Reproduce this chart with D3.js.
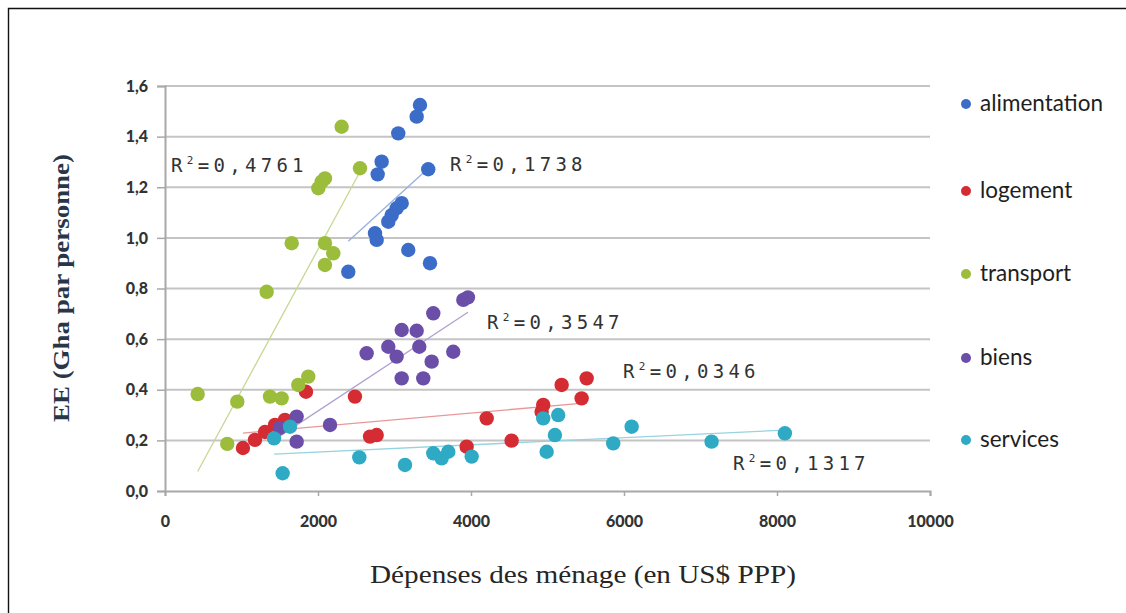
<!DOCTYPE html>
<html>
<head>
<meta charset="utf-8">
<script src="https://cdn.jsdelivr.net/npm/d3@7"></script>
<style>
  html, body { margin: 0; padding: 0; background: #fff; }
  svg { display: block; }
</style>
</head>
<body>
<svg id="chart" width="1126" height="613"></svg>
<script>
// ---- data ---------------------------------------------------------------
const categories = ["alimentation", "logement", "transport", "biens", "services"];

// household spending (US$ PPP) and ecological footprint (gha per person)
const alimentationX = [3333, 3290, 3049, 2832, 2780, 3441, 3094, 3028, 2963, 2919, 2745, 2767, 3180, 3464, 2396];
const alimentationY = [1.525, 1.479, 1.413, 1.301, 1.251, 1.271, 1.137, 1.117, 1.090, 1.064, 1.018, 0.992, 0.952, 0.900, 0.866];

const logementX = [1019, 1176, 1307, 1438, 1568, 1843, 2483, 2680, 2767, 4205, 4531, 3943, 4944, 4923, 5185, 5512, 5446];
const logementY = [0.170, 0.202, 0.233, 0.261, 0.281, 0.392, 0.373, 0.215, 0.221, 0.287, 0.199, 0.175, 0.340, 0.313, 0.419, 0.445, 0.366];

const transportX = [427, 945, 814, 1329, 1372, 1525, 1742, 1873, 2309, 2549, 2048, 2004, 2091, 1656, 2091, 2200, 2091];
const transportY = [0.383, 0.353, 0.186, 0.787, 0.373, 0.366, 0.419, 0.452, 1.439, 1.275, 1.222, 1.196, 1.235, 0.979, 0.979, 0.939, 0.893];

const biensX = [1500, 1721, 1721, 2157, 2636, 2919, 3028, 3094, 3290, 3324, 3507, 3486, 3094, 3376, 3768, 3900, 3960];
const biensY = [0.249, 0.294, 0.195, 0.261, 0.544, 0.570, 0.531, 0.636, 0.633, 0.570, 0.702, 0.511, 0.445, 0.445, 0.550, 0.755, 0.765];

const servicesX = [1538, 1425, 1634, 2540, 3137, 3507, 3616, 3703, 4009, 4989, 5097, 4944, 5140, 5859, 6100, 7145, 8103];
const servicesY = [0.070, 0.208, 0.254, 0.133, 0.103, 0.149, 0.129, 0.155, 0.136, 0.155, 0.221, 0.287, 0.300, 0.188, 0.254, 0.195, 0.228];

// coefficient of determination of each linear trend
const r2Values = ["0,1738", "0,0346", "0,4761", "0,3547", "0,1317"];

const xTicks = [0, 2000, 4000, 6000, 8000, 10000];
const yTicks = [0, 0.2, 0.4, 0.6, 0.8, 1.0, 1.2, 1.4, 1.6];

// ---- styles / layout -----------------------------------------------------
const seriesColors = ["#3b6cc8", "#d52b32", "#9bbd3b", "#6a4ea8", "#2eaac4"];
const trendColors  = ["#98b0de", "#e8989b", "#c6d891", "#b0a0d2", "#97d3e0"];
const r2Pos = [[450, 171], [623, 378], [171, 172], [487, 329], [733, 470]];

const xs = [alimentationX, logementX, transportX, biensX, servicesX];
const ys = [alimentationY, logementY, transportY, biensY, servicesY];
const series = categories.map((name, i) => ({
  name, color: seriesColors[i], trend: trendColors[i], r2: r2Values[i], pos: r2Pos[i],
  points: xs[i].map((v, j) => ({ x: v, y: ys[i][j] }))
}));

const svg = d3.select("#chart");
const x = d3.scaleLinear().domain([0, 10000]).range([165, 930]);
const y = d3.scaleLinear().domain([0, 1.6]).range([491, 86]);

// outer frame (top and left edges)
svg.append("path")
  .attr("d", "M8.5,613 L8.5,8.5 L1126,8.5")
  .attr("fill", "none").attr("stroke", "#111").attr("stroke-width", 1.4);

// horizontal gridlines
svg.append("g").selectAll("line")
  .data(yTicks.filter(d => d > 0))
  .join("line")
  .attr("x1", x(0)).attr("x2", x(10000))
  .attr("y1", d => y(d)).attr("y2", d => y(d))
  .attr("stroke", "#c4c4c4").attr("stroke-width", 2);

// axes
const fr = d3.formatLocale({ decimal: ",", thousands: "", grouping: [3], currency: ["", ""] });
const yAxis = d3.axisLeft(y).tickValues(yTicks).tickFormat(fr.format(".1f")).tickSize(8).tickPadding(9);
const xAxis = d3.axisBottom(x).tickValues(xTicks).tickFormat(d3.format("d")).tickSize(5).tickPadding(20);

const gy = svg.append("g").attr("transform", `translate(${x(0)},0)`).call(yAxis);
const gx = svg.append("g").attr("transform", `translate(0,${y(0)})`).call(xAxis);
[gx, gy].forEach(g => {
  g.select(".domain").attr("stroke", "#a8a8a8").attr("stroke-width", 2);
  g.selectAll(".tick line").attr("stroke", "#a8a8a8").attr("stroke-width", 1.5);
  g.selectAll(".tick text")
    .attr("fill", "#333")
    .style("font-family", "Lato, 'Open Sans', sans-serif")
    .style("font-weight", "900")
    .style("font-size", "16px");
});
gy.selectAll(".tick line").attr("x1", -8).attr("x2", 0);

// linear least-squares trend per series, spanning the series' x range
function fit(pts) {
  const mx = d3.mean(pts, d => d.x), my = d3.mean(pts, d => d.y);
  const sxy = d3.sum(pts, d => (d.x - mx) * (d.y - my));
  const sxx = d3.sum(pts, d => (d.x - mx) ** 2);
  const b = sxy / sxx, a = my - b * mx;
  const [x0, x1] = d3.extent(pts, d => d.x);
  return [{ x: x0, y: a + b * x0 }, { x: x1, y: a + b * x1 }];
}
const line = d3.line().x(d => x(d.x)).y(d => y(d.y));

svg.append("g").selectAll("path")
  .data(series)
  .join("path")
  .attr("d", s => line(fit(s.points)))
  .attr("fill", "none")
  .attr("stroke", s => s.trend)
  .attr("stroke-width", 1.3);

// markers
series.forEach(s => {
  svg.append("g").selectAll("circle")
    .data(s.points)
    .join("circle")
    .attr("cx", d => x(d.x))
    .attr("cy", d => y(d.y))
    .attr("r", 7.2)
    .attr("fill", s.color);
});

// R² labels
series.forEach(s => {
  const t = svg.append("text")
    .attr("x", s.pos[0]).attr("y", s.pos[1])
    .attr("fill", "#333")
    .style("font-family", "'DejaVu Sans Mono', monospace")
    .style("font-size", "19px")
    .style("letter-spacing", "4.3px");
  t.append("tspan").text("R");
  t.append("tspan").attr("dy", -8).style("font-size", "11px").text("2");
  t.append("tspan").attr("dy", 8).text("=" + s.r2);
});

// legend
const legend = svg.append("g").selectAll("g")
  .data(series)
  .join("g")
  .attr("transform", (d, i) => `translate(966,${[104, 191, 274, 358, 440][i]})`);
legend.append("circle").attr("r", 5).attr("fill", d => d.color);
legend.append("text")
  .attr("x", 14).attr("y", 7)
  .attr("fill", "#1e1e1e")
  .style("font-family", "Lato, 'Open Sans', sans-serif")
  .style("font-size", "22.5px")
  .text(d => d.name);

// axis titles
svg.append("text")
  .attr("x", 583).attr("y", 583)
  .attr("text-anchor", "middle")
  .attr("fill", "#262626")
  .attr("textLength", 426).attr("lengthAdjust", "spacingAndGlyphs")
  .style("font-family", "'Liberation Serif', 'DejaVu Serif', serif")
  .style("font-size", "25px")
  .text("Dépenses des ménage (en US$ PPP)");

svg.append("text")
  .attr("transform", "translate(69,288) rotate(-90)")
  .attr("text-anchor", "middle")
  .attr("fill", "#283648")
  .attr("textLength", 268).attr("lengthAdjust", "spacingAndGlyphs")
  .style("font-family", "'Liberation Serif', 'DejaVu Serif', serif")
  .style("font-size", "24px")
  .style("font-weight", "600")
  .text("EE (Gha par personne)");
</script>
</body>
</html>
